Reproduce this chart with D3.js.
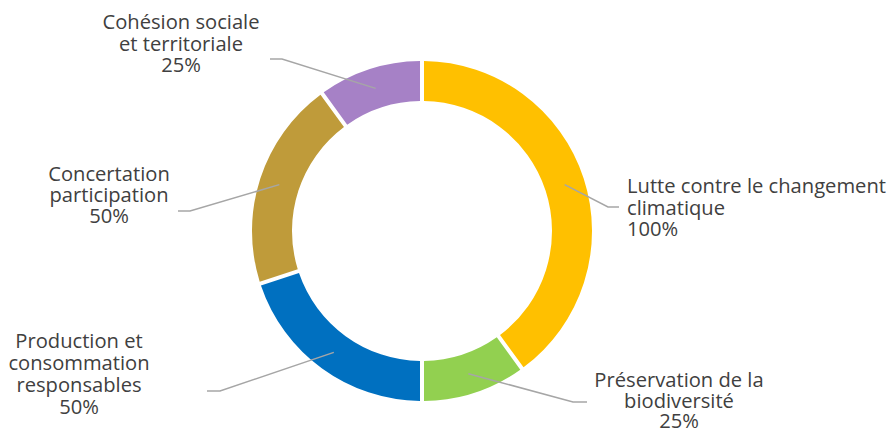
<!DOCTYPE html>
<html><head><meta charset="utf-8">
<script src="https://cdn.jsdelivr.net/npm/d3@7"></script>
<style>html,body{margin:0;padding:0;background:#fff;}svg{display:block;}</style>
</head><body>
<svg id="c" width="889" height="431"></svg>
<script>
const categories = ["Lutte contre le changement climatique", "Préservation de la biodiversité", "Production et consommation responsables", "Concertation participation", "Cohésion sociale et territoriale"];
const values = [100, 25, 50, 50, 25];
const labelLines = [
  ["Lutte contre le changement", "climatique", "100%"],
  ["Préservation de la", "biodiversité", "25%"],
  ["Production et", "consommation", "responsables", "50%"],
  ["Concertation", "participation", "50%"],
  ["Cohésion sociale", "et territoriale", "25%"]
];
const colors = ["#FFC000", "#92D050", "#0070C0", "#BF9B3A", "#A681C6"];

// layout (label positions)
const layout = [
  {tx: 627, ty: 193, anchor: "start", ex: 608, ey: 207, lx: 619, lh: 21.5},
  {tx: 679, ty: 387, anchor: "middle", ex: 573, ey: 402, lx: 587, lh: 20.5},
  {tx: 79, ty: 348, anchor: "middle", ex: 220, ey: 391, lx: 207, lh: 22},
  {tx: 109, ty: 181, anchor: "middle", ex: 190, ey: 211, lx: 178, lh: 21},
  {tx: 181, ty: 29, anchor: "middle", ex: 282, ey: 59, lx: 270, lh: 21.5}
];

const svg = d3.select("#c");
const cx = 422, cy = 231, rOuter = 170, rInner = 130;
const fam = "'Open Sans', sans-serif";

// fit font size so the longest line matches reference width
const probe = svg.append("text").attr("font-family", fam).attr("font-size", 20).text("Lutte contre le changement");
const w = probe.node().getComputedTextLength();
probe.remove();
const fs = 20 * 259 / w;

const g = svg.append("g").attr("transform", `translate(${cx},${cy})`);
const pie = d3.pie().sort(null).value(d => d)(values);
const arc = d3.arc().innerRadius(rInner).outerRadius(rOuter).padAngle(4/150).padRadius(150);
g.selectAll("path.s").data(pie).join("path").attr("class","s")
  .attr("d", arc).attr("fill", (d,i) => colors[i]);

const mid = d3.arc().innerRadius(150).outerRadius(150);
pie.forEach((d, i) => {
  const c = mid.centroid(d);
  const L = layout[i];
  const pts = [[cx + c[0], cy + c[1]], [L.ex, L.ey], [L.lx, L.ey]];
  svg.append("path").attr("d", d3.line()(pts)).attr("fill","none")
    .attr("stroke","#A6A6A6").attr("stroke-width",1.5);
  const t = svg.append("text").attr("text-anchor", L.anchor)
    .attr("font-family", fam).attr("font-size", fs).attr("fill","#404040");
  labelLines[i].forEach((s, k) => {
    t.append("tspan").attr("x", L.tx).attr("y", L.ty + k*L.lh).text(s);
  });
});
</script>
</body></html>
